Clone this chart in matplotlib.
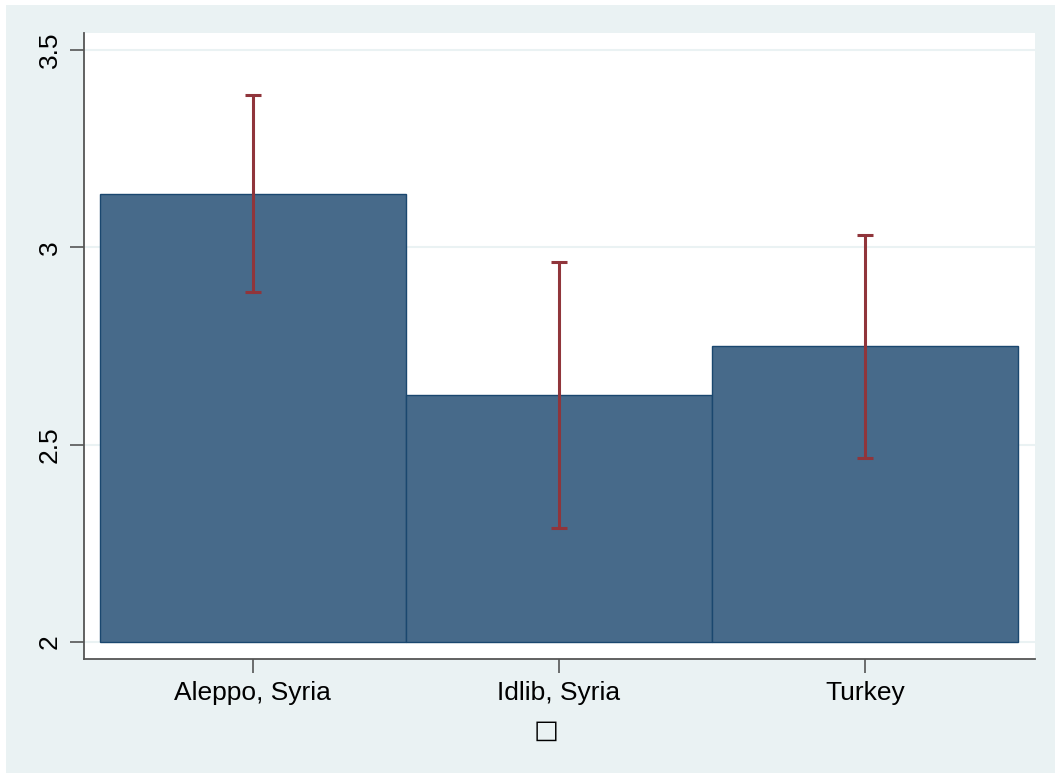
import matplotlib
matplotlib.use("Agg")
import matplotlib.pyplot as plt
from matplotlib.patches import Rectangle

categories = ["Aleppo, Syria", "Idlib, Syria", "Turkey"]
means = [3.135, 2.626, 2.750]
ci_low = [2.886, 2.289, 2.466]
ci_high = [3.386, 2.963, 3.031]
yticks = [2, 2.5, 3, 3.5]
ytick_labels = ["2", "2.5", "3", "3.5"]
xtitle = "\u25a1"

W, H = 1055, 773
fig = plt.figure(figsize=(W / 100, H / 100), dpi=100)
fig.patch.set_facecolor("white")
bg = "#EAF2F3"
fig.add_artist(Rectangle((6 / W, 0), 1 - 6 / W, 1 - 5 / H, transform=fig.transFigure,
                         facecolor=bg, edgecolor="none", zorder=0))

left, right, top, bottom = 84, 1035, 33, 659
ax = fig.add_axes([left / W, 1 - bottom / H, (right - left) / W, (bottom - top) / H])
ax.set_facecolor("white")

base = 2.0
x = list(range(len(categories)))
ax.bar(x, [m - base for m in means], bottom=base, width=1.0,
       color="#476A8A", edgecolor="#1A476F", linewidth=1.0, zorder=2)
ax.errorbar(x, means, yerr=[[m - l for m, l in zip(means, ci_low)],
                            [h - m for m, h in zip(means, ci_high)]],
            fmt="none", ecolor="#90353B", elinewidth=2.2, capsize=6, capthick=2.2, zorder=3)

ax.set_ylim(1.957, 3.543)
ax.set_xlim(-0.552, 2.556)
ax.set_yticks(yticks)
ax.set_yticklabels(ytick_labels, rotation=90, va="center", fontsize=19,
                   family="Liberation Sans")
ax.set_xticks(x)
ax.set_xticklabels(categories, fontsize=19, family="Liberation Sans")
ax.yaxis.grid(True, color=bg, linewidth=1.5, zorder=1)
ax.set_axisbelow(True)
for s in ["top", "right"]:
    ax.spines[s].set_visible(False)
for s in ["left", "bottom"]:
    ax.spines[s].set_color("#555555")
    ax.spines[s].set_linewidth(1.3)
ax.tick_params(axis="both", length=10, width=1.2, color="#555555", labelcolor="black", pad=6)

fig.text(546 / W, 1 - 731 / H, xtitle, ha="center", va="center", fontsize=19,
         family="DejaVu Sans")

fig.savefig("out.png", dpi=100, facecolor="white")
